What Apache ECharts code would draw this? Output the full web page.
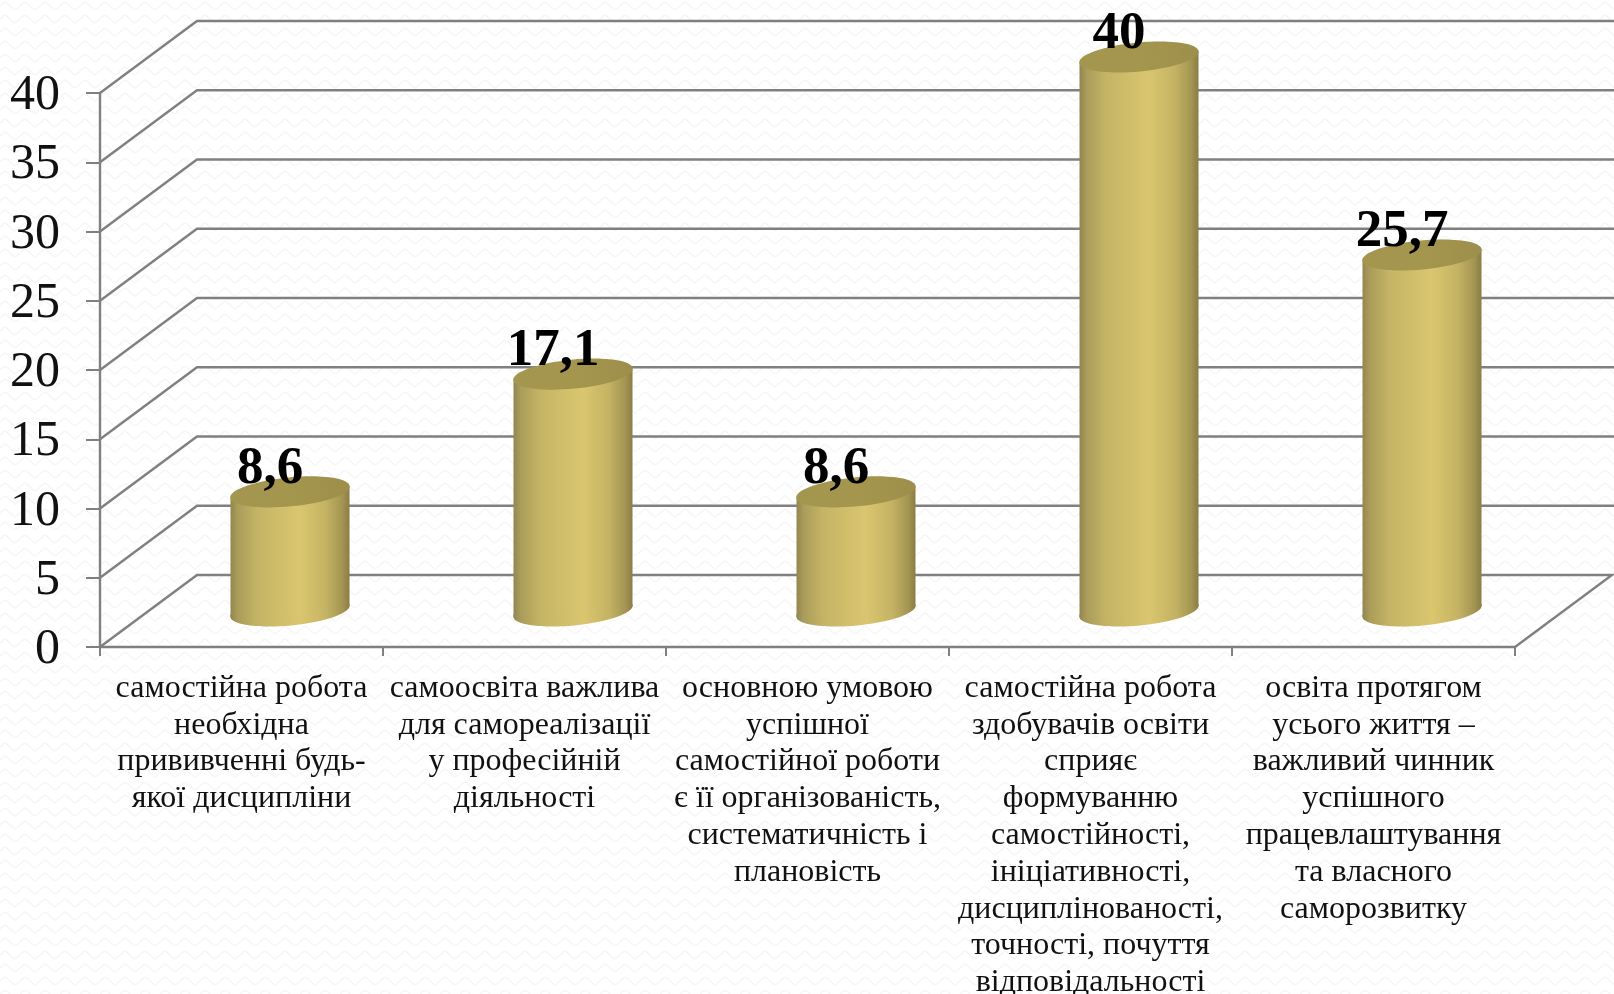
<!DOCTYPE html>
<html><head><meta charset="utf-8">
<style>html,body{margin:0;padding:0;background:#fff}#c{width:1614px;height:994px}</style>
<script src="https://cdn.jsdelivr.net/npm/echarts@6/dist/echarts.min.js"></script>
</head><body><div id="c"></div>
<script>
const categories = [
 "самостійна робота\nнеобхідна\nпрививченні будь-\nякої дисципліни",
 "самоосвіта важлива\nдля самореалізації\nу професійній\nдіяльності",
 "основною умовою\nуспішної\nсамостійної роботи\nє її організованість,\nсистематичність і\nплановість",
 "самостійна робота\nздобувачів освіти\nсприяє\nформуванню\nсамостійності,\nініціативності,\nдисциплінованості,\nточності, почуття\nвідповідальності",
 "освіта протягом\nусього життя –\nважливий чинник\nуспішного\nпрацевлаштування\nта власного\nсаморозвитку"
];
const values = [8.6, 17.1, 8.6, 40, 25.7];
const yTicks = [0, 5, 10, 15, 20, 25, 30, 35, 40];

const SERIF = '"Liberation Serif","Times New Roman",serif';
const AXIS = '#808080';
const DEPTH_X = 97, DEPTH_Y = 72;
const RX = 60, RY = 14.5, TILT = 5.5 * Math.PI / 180;

function bgPattern() {
  const c = document.createElement('canvas'); c.width = 20; c.height = 13;
  const g = c.getContext('2d');
  g.fillStyle = '#ffffff'; g.fillRect(0, 0, 20, 13);
  g.strokeStyle = '#f6f6f6'; g.lineWidth = 1.6;
  for (const oy of [0, 13]) {
    g.beginPath(); g.moveTo(0, oy + 6);
    g.bezierCurveTo(5, oy + 1, 5, oy + 1, 10, oy + 6);
    g.bezierCurveTo(15, oy + 11, 15, oy + 11, 20, oy + 6);
    g.stroke();
  }
  return c;
}

const bodyGrad = () => new echarts.graphic.LinearGradient(0, 0, 1, 0, [
  {offset: 0, color: '#928650'}, {offset: .06, color: '#aa9c5a'},
  {offset: .22, color: '#c4b465'}, {offset: .58, color: '#dac66f'},
  {offset: .8, color: '#c4b363'}, {offset: .94, color: '#a39452'}, {offset: 1, color: '#8a7d45'}
]);

function wallItem(p, api) {
  const v = api.value(0);
  const l = api.coord([0, v]);
  const s = p.coordSys;
  const x0 = s.x, x1 = s.x + s.width, y = l[1];
  const pts = (v === 0)
    ? [[x0, y], [x0 + DEPTH_X, y - DEPTH_Y], [x1 + DEPTH_X, y - DEPTH_Y], [x1, y]]
    : [[x0, y], [x0 + DEPTH_X, y - DEPTH_Y], [x1 + DEPTH_X + 5, y - DEPTH_Y]];
  return {type: 'polyline', shape: {points: pts}, silent: true,
    style: {fill: null, stroke: AXIS, lineWidth: 2.4}};
}

function cylItem(p, api) {
  const i = api.value(0), v = api.value(1);
  const base = api.coord([i, 0]), top = api.coord([i, v]);
  const cx = base[0] + DEPTH_X / 2, by = base[1] - DEPTH_Y / 2, ty = top[1] - DEPTH_Y / 2;
  const ex = RX - 0.5, ey = 5.5;
  const ell = (cy, fill) => ({type: 'ellipse', shape: {cx, cy, rx: RX, ry: RY},
    rotation: TILT, originX: cx, originY: cy, style: {fill}});
  return {type: 'group', children: [
    ell(by, bodyGrad()),
    {type: 'polygon', shape: {points: [[cx - ex, ty + ey], [cx + ex, ty - ey], [cx + ex, by - ey], [cx - ex, by + ey]]},
      style: {fill: bodyGrad()}},
    ell(ty, new echarts.graphic.LinearGradient(0, 0, 1, 0, [
      {offset: 0, color: '#a3964f'}, {offset: .5, color: '#a5964e'}, {offset: 1, color: '#9d8f4b'}])),
    {type: 'text', x: cx - 20, y: ty + 4, z2: 10,
      style: {text: String(v).replace('.', ','), font: 'bold 53px ' + SERIF, fill: '#000',
        textAlign: 'center', verticalAlign: 'bottom'}}
  ]};
}

const chart = echarts.init(document.getElementById('c'), null, {renderer: 'canvas'});
chart.setOption({
  animation: false,
  backgroundColor: {image: bgPattern(), repeat: 'repeat'},
  grid: {left: 100, right: 99, top: 93, bottom: 347, containLabel: false, outerBoundsMode: 'none'},
  xAxis: {type: 'category', data: categories, boundaryGap: true,
    axisLine: {lineStyle: {color: AXIS, width: 2.4}},
    axisTick: {show: true, length: 9, alignWithLabel: false, lineStyle: {color: AXIS, width: 2}},
    axisLabel: {interval: 0, margin: 23, color: '#111', fontFamily: SERIF, fontSize: 32, lineHeight: 36.8,
      align: 'center', verticalAlign: 'top', hideOverlap: false},
    splitLine: {show: false}},
  yAxis: {type: 'value', min: 0, max: 40, interval: 5,
    axisLine: {show: true, lineStyle: {color: AXIS, width: 2.4}},
    axisTick: {show: true, length: 14, lineStyle: {color: AXIS, width: 2}},
    axisLabel: {margin: 40, formatter: '{t|{value}}',
      rich: {t: {color: '#111', fontFamily: SERIF, fontSize: 50, padding: [6, 0, 0, 0]}}},
    splitLine: {show: false}},
  series: [
    {type: 'custom', coordinateSystem: 'cartesian2d', data: yTicks.map(v => [v]), encode: {y: 0},
      renderItem: wallItem, z: 1, clip: false, silent: true},
    {type: 'custom', coordinateSystem: 'cartesian2d', data: values.map((v, i) => [i, v]), encode: {x: 0, y: 1},
      renderItem: cylItem, z: 3, clip: false, silent: true}
  ]
});
</script></body></html>
